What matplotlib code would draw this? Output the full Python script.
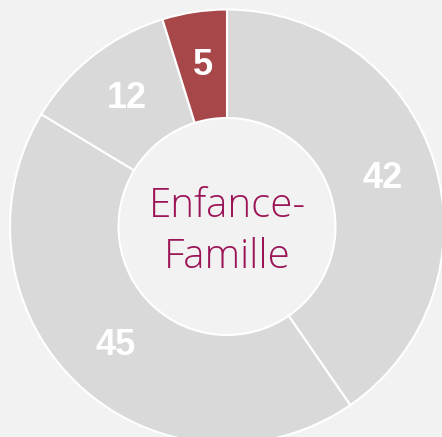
import matplotlib
matplotlib.use("Agg")
from matplotlib import pyplot as plt

# slice data, clockwise from 12 o'clock
categories = ["A", "B", "C", "Enfance-Famille"]
values = [42, 45, 12, 5]
colors = ["#d9d9d9", "#d9d9d9", "#d9d9d9", "#a84749"]
center_label = "Enfance-\nFamille"

W, H = 442, 437
cx, cy, r_px = 227, 226.5, 217  # donut centre / outer radius in pixels

fig = plt.figure(figsize=(W / 100, H / 100), dpi=100, facecolor="#f2f2f2")
ax = fig.add_axes([0, 0, 1, 1])
ax.set_facecolor("#f2f2f2")

total = sum(values)
wedges, _, autotexts = ax.pie(
    values,
    colors=colors,
    startangle=90,
    counterclock=False,
    radius=1,
    wedgeprops=dict(width=0.5, edgecolor="white", linewidth=1.5),
    autopct=lambda p: f"{round(p * total / 100)}",
    pctdistance=0.75,
    textprops=dict(color="white", fontsize=26, fontweight="bold", family="Liberation Sans"),
)

ax.text(0, -0.025, center_label, ha="center", va="center", fontsize=29,
        color="#9a1456", family="Open Sans", fontweight=300, linespacing=1.3)

ax.set_xlim(-cx / r_px, (W - cx) / r_px)
ax.set_ylim(-(H - cy) / r_px, cy / r_px)
ax.set_aspect("auto")
ax.axis("off")

fig.savefig("out.png", dpi=100, facecolor=fig.get_facecolor())
